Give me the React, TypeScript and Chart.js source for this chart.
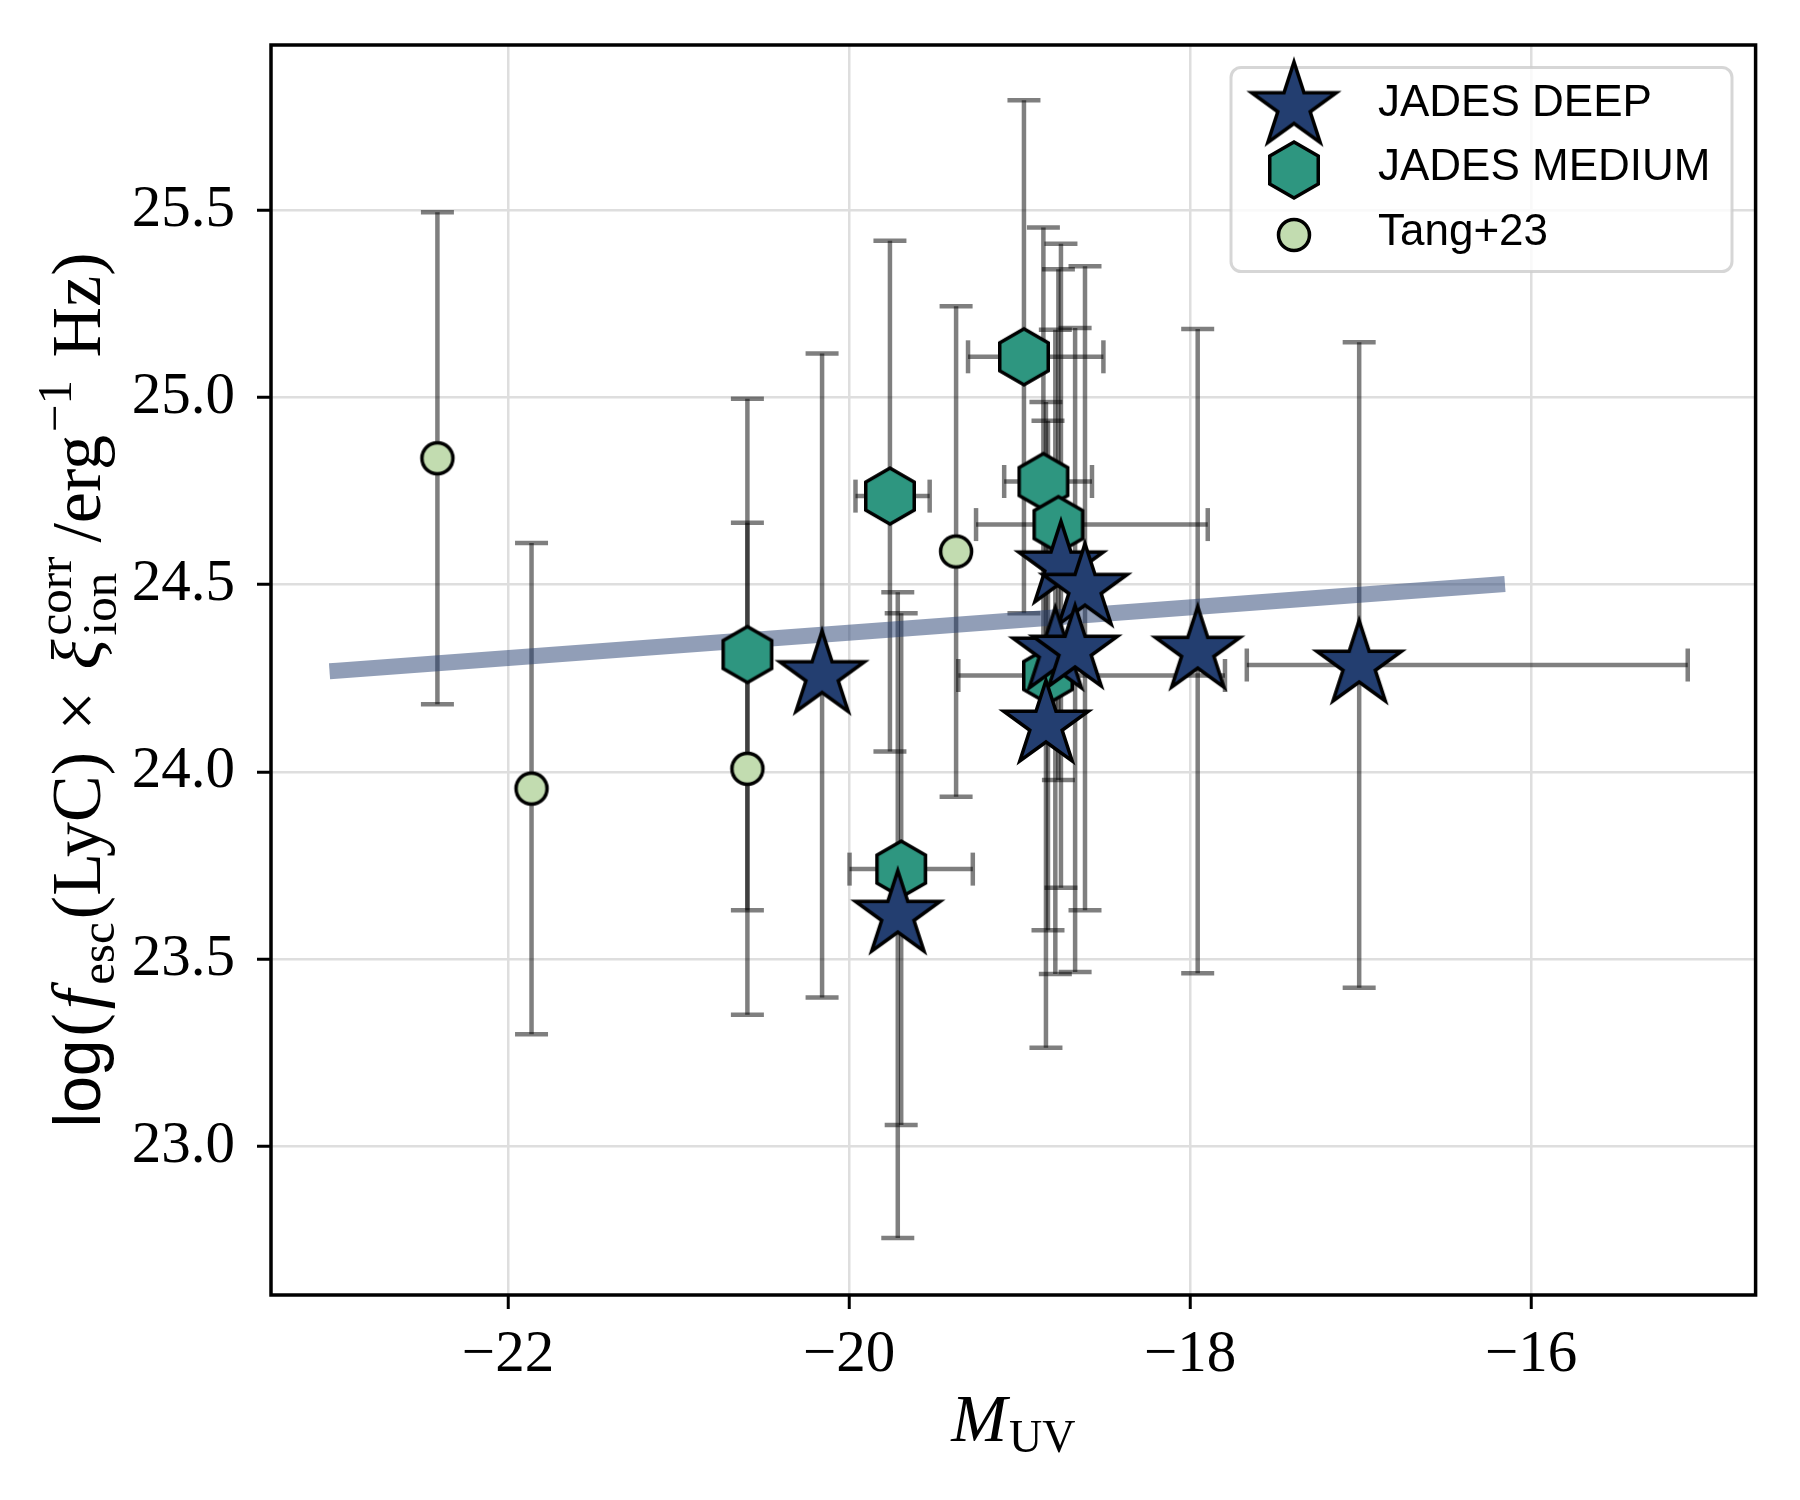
import React, { useEffect, useRef } from "react";
import { Chart, registerables } from "chart.js";

Chart.register(...registerables);

// JADES DEEP (stars)
const deepX = [-20.158, -19.714, -18.757, -18.616, -18.79, -18.674, -18.845, -17.955, -17.008];
const deepY = [24.257, 23.617, 24.55, 24.49, 24.32, 24.325, 24.125, 24.322, 24.285];
const deepYErr = [0.86, 0.862, 0.86, 0.86, 0.86, 0.86, 0.862, 0.86, 0.862];
const deepXErrLo = [0, 0, 0, 0, 0, 0, 0, 0, 0.659];
const deepXErrHi = [0, 0, 0, 0, 0, 0, 0, 0, 1.927];

// JADES MEDIUM (hexagons)
const medX = [-20.596, -19.76, -18.974, -18.86, -18.772, -18.833, -19.694];
const medY = [24.313, 24.736, 25.108, 24.775, 24.66, 24.257, 23.74];
const medYErr = [0.683, 0.682, 0.685, 0.678, 0.682, 0.68, 0.683];
const medXErrLo = [0, 0.202, 0.328, 0.23, 0.483, 0.526, 0.303];
const medXErrHi = [0, 0.233, 0.466, 0.285, 0.876, 1.038, 0.42];

// Tang+23 (circles)
const tangX = [-22.414, -21.862, -20.596, -19.372];
const tangY = [24.837, 23.955, 24.008, 24.588];
const tangYErr = [0.657, 0.656, 0.657, 0.655];

// relation line
const fitX = [-23.0, -16.2];
const fitY = [24.27, 24.5];

const xTicks = [-22, -20, -18, -16];
const yTicks = [23.0, 23.5, 24.0, 24.5, 25.0, 25.5];

const legendLabels = ["JADES DEEP", "JADES MEDIUM", "Tang+23"];

const SERIF = '"Liberation Serif", "DejaVu Serif", serif';
const SANS = '"Liberation Sans", "DejaVu Sans", sans-serif';

const makeMarker = (kind: string, fill: string) => {
  const size = 120;
  const c = document.createElement("canvas");
  c.width = size;
  c.height = size;
  const ctx = c.getContext("2d")!;
  ctx.translate(size / 2, size / 2);
  ctx.beginPath();
  if (kind === "star") {
    const R = 44.5;
    const r = R * 0.381966;
    for (let i = 0; i < 10; i++) {
      const a = -Math.PI / 2 + (i * Math.PI) / 5;
      const rad = i % 2 === 0 ? R : r;
      ctx.lineTo(rad * Math.cos(a), rad * Math.sin(a));
    }
  } else if (kind === "hex") {
    const R = 28;
    for (let i = 0; i < 6; i++) {
      const a = -Math.PI / 2 + (i * Math.PI) / 3;
      ctx.lineTo(R * Math.cos(a), R * Math.sin(a));
    }
  } else {
    ctx.arc(0, 0, 15.5, 0, Math.PI * 2);
  }
  ctx.closePath();
  ctx.fillStyle = fill;
  ctx.fill();
  ctx.lineWidth = 3.5;
  ctx.lineJoin = "miter";
  ctx.strokeStyle = "#000";
  ctx.stroke();
  return c;
};

type Run = { t: string; f: string; dy?: number; dx?: number; sub?: string; subDy?: number };

const drawRuns = (ctx: CanvasRenderingContext2D, runs: Run[], cx: number) => {
  const widthOf = (r: Run) => {
    ctx.font = r.f;
    let w = ctx.measureText(r.t).width;
    if (r.sub) w = Math.max(w, ctx.measureText(r.sub).width);
    return w + (r.dx || 0);
  };
  const total = runs.reduce((s, r) => s + widthOf(r), 0);
  let x = cx - total / 2;
  ctx.textAlign = "left";
  ctx.textBaseline = "alphabetic";
  for (const r of runs) {
    const w = widthOf(r);
    ctx.font = r.f;
    ctx.fillText(r.t, x + (r.dx || 0), r.dy || 0);
    if (r.sub) ctx.fillText(r.sub, x + (r.dx || 0), r.subDy || 0);
    x += w;
  }
};

const App: React.FC = () => {
  const canvasRef = useRef<HTMLCanvasElement | null>(null);

  useEffect(() => {
    if (!canvasRef.current) return;

    const star = makeMarker("star", "#233e70");
    const hex = makeMarker("hex", "#2e9680");
    const circ = makeMarker("circle", "#c2dcb0");

    const errorSeries = [
      { x: tangX, y: tangY, yErr: tangYErr, xLo: tangX.map(() => 0), xHi: tangX.map(() => 0) },
      { x: medX, y: medY, yErr: medYErr, xLo: medXErrLo, xHi: medXErrHi },
      { x: deepX, y: deepY, yErr: deepYErr, xLo: deepXErrLo, xHi: deepXErrHi },
    ];

    const errorBars = {
      id: "errorBars",
      beforeDatasetsDraw(chart: any) {
        const { ctx, scales } = chart;
        const xs = scales.x;
        const ys = scales.y;
        const cap = 16.5;
        ctx.save();
        ctx.strokeStyle = "rgba(0,0,0,0.5)";
        ctx.lineWidth = 4.5;
        ctx.lineCap = "butt";
        const seg = (x1: number, y1: number, x2: number, y2: number) => {
          ctx.beginPath();
          ctx.moveTo(x1, y1);
          ctx.lineTo(x2, y2);
          ctx.stroke();
        };
        for (const s of errorSeries) {
          s.x.forEach((xv, i) => {
            const px = xs.getPixelForValue(xv);
            const py = ys.getPixelForValue(s.y[i]);
            const top = ys.getPixelForValue(s.y[i] + s.yErr[i]);
            const bot = ys.getPixelForValue(s.y[i] - s.yErr[i]);
            seg(px, top, px, bot);
            seg(px - cap, top, px + cap, top);
            seg(px - cap, bot, px + cap, bot);
            if (s.xLo[i] > 0 || s.xHi[i] > 0) {
              const l = xs.getPixelForValue(xv - s.xLo[i]);
              const r = xs.getPixelForValue(xv + s.xHi[i]);
              seg(l, py, r, py);
              seg(l, py - cap, l, py + cap);
              seg(r, py - cap, r, py + cap);
            }
          });
        }
        ctx.restore();
      },
    };

    const decorations = {
      id: "decorations",
      afterDraw(chart: any) {
        const { ctx, chartArea } = chart;
        const { left, right, top, bottom } = chartArea;
        ctx.save();
        // frame
        ctx.strokeStyle = "#000";
        ctx.lineWidth = 3.5;
        ctx.strokeRect(left, top, right - left, bottom - top);

        // legend
        ctx.beginPath();
        ctx.roundRect(1231, 67.5, 501, 204, 10);
        ctx.fillStyle = "rgba(255,255,255,0.8)";
        ctx.fill();
        ctx.lineWidth = 3;
        ctx.strokeStyle = "rgba(204,204,204,0.8)";
        ctx.stroke();
        const markers = [star, hex, circ];
        const markerY = [106.5, 170, 235];
        const textY = [116, 180, 245];
        ctx.fillStyle = "#000";
        ctx.font = `44px ${SANS}`;
        ctx.textAlign = "left";
        ctx.textBaseline = "alphabetic";
        legendLabels.forEach((lab, i) => {
          const m = markers[i];
          ctx.drawImage(m, 1294 - m.width / 2, markerY[i] - m.height / 2);
          ctx.fillText(lab, 1378, textY[i]);
        });

        // x axis title
        ctx.save();
        ctx.translate(0, 1441);
        drawRuns(
          ctx,
          [
            { t: "M", f: `italic 67px ${SERIF}` },
            { t: "UV", f: `46px ${SERIF}`, dy: 11, dx: 2 },
          ],
          (left + right) / 2
        );
        ctx.restore();

        // y axis title
        ctx.save();
        ctx.translate(100, 0);
        ctx.rotate(-Math.PI / 2);
        const main = `70px ${SERIF}`;
        const it = `italic 70px ${SERIF}`;
        const scr = `49px ${SERIF}`;
        drawRuns(
          ctx,
          [
            { t: "log", f: `66px ${SANS}` },
            { t: "(", f: main, dx: 3 },
            { t: "f", f: it, dx: 4 },
            { t: "esc", f: scr, dy: 14, dx: 5 },
            { t: "(LyC)", f: main, dx: 3 },
            { t: " \u00d7 ", f: main, dx: 4 },
            { t: "\u03be", f: it, dx: 4 },
            { t: "corr", f: scr, dy: -29, sub: "ion", subDy: 16, dx: 4 },
            { t: "/erg", f: main, dx: 14 },
            { t: "\u22121", f: scr, dy: -29, dx: 3 },
            { t: " Hz)", f: main, dx: 5 },
          ],
          -690
        );
        ctx.restore();
        ctx.restore();
      },
    };

    const chart = new Chart(canvasRef.current, {
      type: "scatter",
      data: {
        datasets: [
          {
            label: legendLabels[0],
            data: deepX.map((x, i) => ({ x, y: deepY[i] })),
            pointStyle: star,
            pointRadius: 20,
            order: 0,
          },
          {
            label: legendLabels[1],
            data: medX.map((x, i) => ({ x, y: medY[i] })),
            pointStyle: hex,
            pointRadius: 20,
            order: 1,
          },
          {
            label: legendLabels[2],
            data: tangX.map((x, i) => ({ x, y: tangY[i] })),
            pointStyle: circ,
            pointRadius: 15,
            order: 2,
          },
          {
            label: "fit",
            data: fitX.map((x, i) => ({ x, y: fitY[i] })),
            showLine: true,
            borderColor: "rgba(35,62,112,0.5)",
            borderWidth: 16,
            borderCapStyle: "square",
            pointRadius: 0,
            order: 3,
          },
        ],
      },
      options: {
        responsive: false,
        maintainAspectRatio: false,
        animation: false,
        events: [],
        layout: { padding: { left: 0, top: 45, right: 44.4, bottom: 0 } },
        plugins: {
          legend: { display: false },
          tooltip: { enabled: false },
        },
        scales: {
          x: {
            type: "linear",
            min: -23.39,
            max: -14.683,
            afterFit: (scale: any) => {
              scale.height = 205;
              scale.paddingLeft = 0;
              scale.paddingRight = 0;
            },
            afterBuildTicks: (scale: any) => {
              scale.ticks = xTicks.map((v) => ({ value: v }));
            },
            border: { display: false },
            grid: {
              color: "#dedede",
              lineWidth: 2.5,
              tickColor: "#000",
              tickWidth: 3,
              tickLength: 14,
            },
            ticks: {
              autoSkip: false,
              maxRotation: 0,
              padding: 11,
              color: "#000",
              font: { family: SERIF, size: 59 },
              callback: (v: any) => (Number(v) < 0 ? "\u2212" + Math.abs(Number(v)) : String(v)),
            },
          },
          y: {
            type: "linear",
            min: 22.6028,
            max: 25.9406,
            afterFit: (scale: any) => {
              scale.width = 271;
              scale.paddingTop = 0;
              scale.paddingBottom = 0;
            },
            afterBuildTicks: (scale: any) => {
              scale.ticks = yTicks.map((v) => ({ value: v }));
            },
            border: { display: false },
            grid: {
              color: "#dedede",
              lineWidth: 2.5,
              tickColor: "#000",
              tickWidth: 3,
              tickLength: 14,
            },
            ticks: {
              autoSkip: false,
              padding: 22,
              color: "#000",
              font: { family: SERIF, size: 59 },
              callback: (v: any) => Number(v).toFixed(1),
            },
          },
        },
      },
      plugins: [errorBars, decorations],
    });

    return () => {
      chart.destroy();
    };
  }, []);

  return (
    <div style={{ position: "absolute", left: 0, top: 0, width: 1800, height: 1500, background: "#fff" }}>
      <canvas ref={canvasRef} width={1800} height={1500} style={{ width: 1800, height: 1500 }} />
    </div>
  );
};

export default App;
